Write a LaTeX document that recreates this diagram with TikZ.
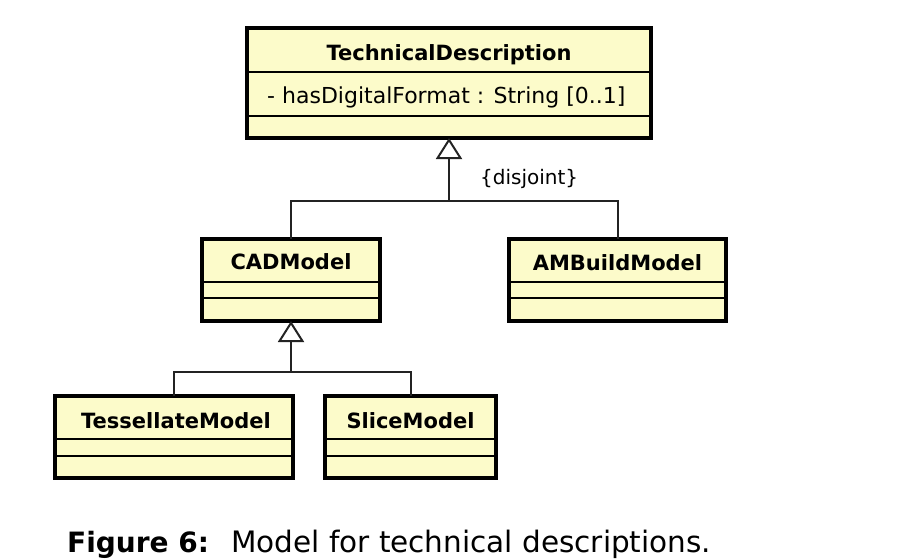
\documentclass[tikz,border=0pt]{standalone}
\usepackage{fontspec}
\setmainfont{DejaVu Sans}
\usetikzlibrary{arrows.meta}
\definecolor{umlfill}{RGB}{252,251,202}
\definecolor{conncol}{RGB}{35,35,35}
\begin{document}
\begin{tikzpicture}[x=1pt,y=-1pt,
  cls/.style={draw=black, line width=4pt, fill=umlfill, inner sep=0pt, outer sep=0pt, anchor=north west},
  div/.style={draw=black, line width=1.5pt},
  ctitle/.style={anchor=base, font=\fontsize{21}{25}\selectfont\bfseries, inner sep=0pt},
  plain/.style={anchor=base west, inner sep=0pt},
  conn/.style={draw=conncol, line width=2pt},
  gen/.style={conn, -{Triangle[fill=white, length=21pt, width=26pt]}}
]
\useasboundingbox (0,0) rectangle (907,558);
\fill[white] (0,0) rectangle (907,558);

% class boxes
\node[cls, minimum width=404pt, minimum height=110pt] (td) at (247,28) {};
\draw[div] (td.north west) ++(0,44) -- ++(404,0);
\draw[div] (td.north west) ++(0,88) -- ++(404,0);
\node[ctitle] (tdt) at (449,60.5) {TechnicalDescription};
\node[plain, font=\fontsize{22}{26}\selectfont] (tda) at (267,103) {- hasDigitalFormat : String [0..1]};

\node[cls, minimum width=178pt, minimum height=82pt] (cad) at (202,239) {};
\draw[div] (cad.north west) ++(0,43) -- ++(178,0);
\draw[div] (cad.north west) ++(0,59) -- ++(178,0);
\node[ctitle] (cadt) at (291,269) {CADModel};

\node[cls, minimum width=217pt, minimum height=82pt] (amb) at (509,239) {};
\draw[div] (amb.north west) ++(0,43) -- ++(217,0);
\draw[div] (amb.north west) ++(0,59) -- ++(217,0);
\node[ctitle] (ambt) at (617.5,270) {AMBuildModel};

\node[cls, minimum width=238pt, minimum height=82pt] (tess) at (55,396) {};
\draw[div] (tess.north west) ++(0,43) -- ++(238,0);
\draw[div] (tess.north west) ++(0,60) -- ++(238,0);
\node[ctitle] (tesst) at (176,428) {TessellateModel};

\node[cls, minimum width=171pt, minimum height=82pt] (slice) at (325,396) {};
\draw[div] (slice.north west) ++(0,43) -- ++(171,0);
\draw[div] (slice.north west) ++(0,60) -- ++(171,0);
\node[ctitle] (slicet) at (410.5,428) {SliceModel};

% generalizations
\coordinate (j1) at (449,201);
\draw[conn] (cad.north) |- (j1) -| (amb.north);
\draw[gen] (j1) -- (td.south);
\node[plain, font=\fontsize{20}{24}\selectfont] (disj) at (480,184) {\{disjoint\}};

\coordinate (j2) at (291,372);
\draw[conn] (tess.north) |- (j2) -| (slice.north);
\draw[gen] (j2) -- (cad.south);

% caption
\node[plain] (cap) at (67,552) {{\fontsize{28}{32}\selectfont\bfseries Figure 6:}\hspace*{22pt}{\fontsize{29.5}{34}\selectfont Model for technical descriptions.}};
\end{tikzpicture}
\end{document}
